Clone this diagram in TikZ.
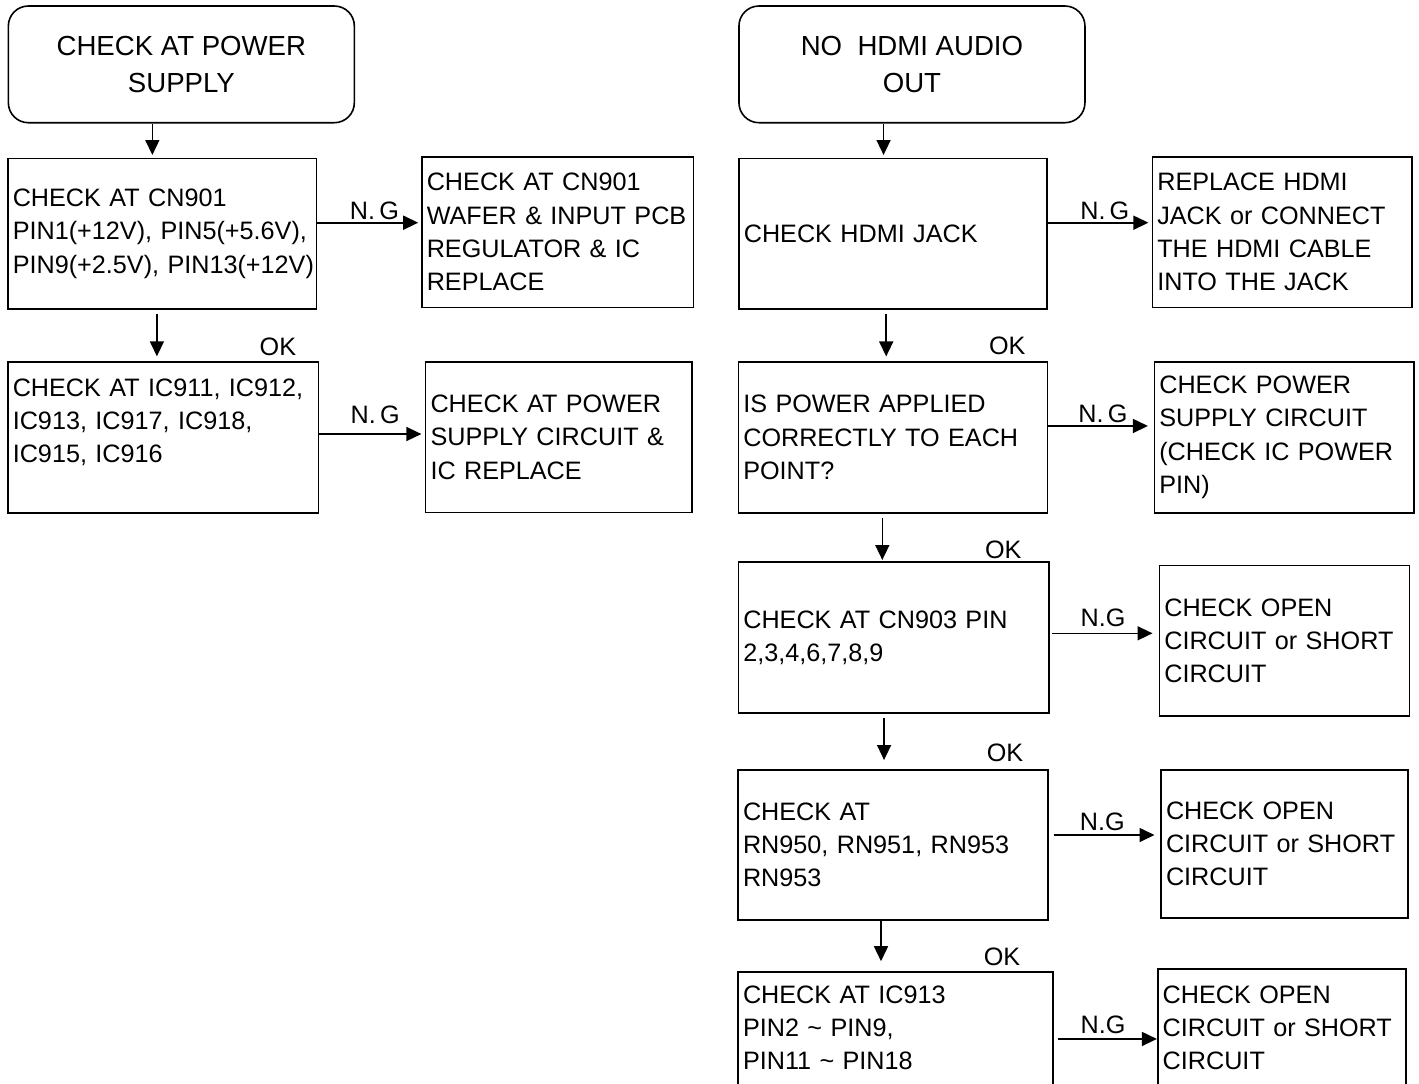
\documentclass[tikz,border=0pt]{standalone}
\usepackage{fontspec}
\setmainfont{Liberation Sans}
\usetikzlibrary{arrows.meta,positioning}

\begin{document}
\begin{tikzpicture}[
    x=0.5pt, y=-0.5pt,
    header/.style={rectangle, draw, rounded corners=10pt, line width=0.8pt, minimum width=173pt, minimum height=58.35pt, align=center, font=\fontsize{13.8}{18.35}\selectfont},
    box/.style={rectangle, draw, line width=0.8pt, align=left, inner xsep=2.5pt, text width=#1, minimum height=75.4pt, font=\fontsize{12.6}{16.65}\selectfont},
    arrow/.style={-{Triangle[length=7.5pt, width=7pt]}, line width=0.8pt},
    ng/.style={anchor=base, inner sep=0pt, yshift=#1, font=\fontsize{12.6}{16.65}\selectfont},
    ok/.style={anchor=base, inner sep=0pt, xshift=60.5pt, yshift=#1, font=\fontsize{12.6}{16.65}\selectfont},
    ok/.default=3pt,
]
    \useasboundingbox (0,0) rectangle (1419,1083);
    \clip (0,0) rectangle (1419,1083);

    % power supply branch
    \node[header] (pwr) at (181.35,64.35) {CHECK AT POWER\\SUPPLY};
    \node[box=149.4pt] (cn901) at (162.2,233.8) {CHECK AT CN901\\PIN1(+12V), PIN5(+5.6V),\\PIN9(+2.5V),~PIN13(+12V)};
    \node[box=130.9pt, minimum height=75.3pt] (cn901ng) at (557.7,232) {CHECK AT CN901\\WAFER \& INPUT PCB\\REGULATOR \& IC\\REPLACE};
    \node[box=150.3pt] (ic91x) at (163.1,437.5) {CHECK AT IC911, IC912,\\IC913, IC917, IC918,\\IC915, IC916\\ \mbox{}};
    \node[box=128.35pt] (ic91xng) at (558.85,437.2) {CHECK AT POWER\\SUPPLY CIRCUIT \&\\IC REPLACE};

    % hdmi audio branch
    \node[header] (hdmi) at (911.95,64.35) {NO\ \ HDMI AUDIO\\OUT};
    \node[box=149.1pt] (jack) at (892.9,233.8) {CHECK HDMI JACK};
    \node[box=124.95pt, minimum height=75.3pt] (jackng) at (1282.25,232) {REPLACE HDMI\\JACK or CONNECT\\THE HDMI CABLE\\INTO THE JACK};
    \node[box=149.5pt] (power) at (892.8,437.35) {IS POWER APPLIED\\CORRECTLY TO EACH\\POINT?};
    \node[box=124.7pt] (powerng) at (1284,437.35) {CHECK POWER\\SUPPLY CIRCUIT\\(CHECK IC POWER\\PIN)};
    \node[box=150.35pt] (cn903) at (893.65,637.5) {CHECK AT CN903 PIN\\2,3,4,6,7,8,9};
    \node[box=120pt] (cn903ng) at (1284.3,640.85) {CHECK OPEN\\CIRCUIT or SHORT\\CIRCUIT};
    \node[box=150pt, minimum height=75pt] (rn95x) at (893,845) {CHECK AT\\RN950, RN951, RN953\\RN953};
    \node[box=118.5pt, minimum height=74pt] (rn95xng) at (1284.5,844) {CHECK OPEN\\CIRCUIT or SHORT\\CIRCUIT};
    \node[box=152.35pt, minimum height=72.65pt] (ic913) at (895.35,1044.35) {CHECK AT IC913\\PIN2 \textasciitilde{} PIN9,\\PIN11 \textasciitilde{} PIN18\\ \mbox{}};
    \node[box=119.15pt, minimum height=75.65pt] (ic913ng) at (1281.85,1044.35) {CHECK OPEN\\CIRCUIT or SHORT\\CIRCUIT\\ \mbox{}};

    % OK arrows
    \draw[arrow, shorten >=1.3pt] ([xshift=-14.5pt]pwr.south) -- ([xshift=-14.5pt]pwr.south |- cn901.north);
    \draw[arrow, shorten <=2pt, shorten >=2.5pt] ([xshift=-2.65pt]cn901.south) -- ([xshift=-2.65pt]cn901.south |- ic91x.north) node[ok=3.15pt] {OK};
    \draw[arrow, shorten >=1.3pt] ([xshift=-14.2pt]hdmi.south) -- ([xshift=-14.2pt]hdmi.south |- jack.north);
    \draw[arrow, shorten <=2pt, shorten >=2.35pt] ([xshift=-3.35pt]jack.south) -- ([xshift=-3.35pt]jack.south |- power.north) node[ok=3.5pt] {OK};
    \draw[arrow, shorten <=2.3pt, shorten >=0.65pt] ([xshift=-5.25pt]power.south) -- ([xshift=-5.25pt]power.south |- cn903.north) node[ok=1.35pt] {OK};
    \draw[arrow, shorten <=2.2pt, shorten >=4.6pt] ([xshift=-4.8pt]cn903.south) -- ([xshift=-4.8pt]cn903.south |- rn95x.north) node[ok=3.85pt] {OK};
    \draw[arrow, shorten >=4.85pt] ([xshift=-6pt]rn95x.south) -- ([xshift=-6pt]rn95x.south |- ic913.north) node[ok=2.5pt] {OK};

    % N.G arrows
    \draw[arrow, shorten >=1.4pt] ([yshift=5.55pt]cn901.east) -- node[ng=1.7pt, pos=.55] {N.\,G} ([yshift=5.55pt]cn901.east -| cn901ng.west);
    \draw[arrow, shorten >=1.65pt] ([yshift=1.75pt]ic91x.east) -- node[ng=5.35pt, pos=.53] {N.\,G} ([yshift=1.75pt]ic91x.east -| ic91xng.west);
    \draw[arrow, shorten >=1.55pt] ([yshift=5.55pt]jack.east) -- node[ng=1.7pt, pos=.55] {N.\,G} ([yshift=5.55pt]jack.east -| jackng.west);
    \draw[arrow, shorten >=2.8pt] ([yshift=5.7pt]power.east) -- node[ng=1.65pt, pos=.52] {N.\,G} ([yshift=5.7pt]power.east -| powerng.west);
    \draw[arrow, shorten <=1pt, shorten >=3pt] ([yshift=2.1pt]cn903.east) -- node[ng=3.3pt, pos=.49] {N.G} ([yshift=2.1pt]cn903.east -| cn903ng.west);
    \draw[arrow, shorten <=2.35pt, shorten >=2.85pt] ([yshift=5pt]rn95x.east) -- node[ng=2.5pt, pos=.48] {N.G} ([yshift=5pt]rn95x.east -| rn95xng.west);
    \draw[arrow, shorten <=2pt] ([yshift=2.7pt]ic913.east) -- node[ng=2.85pt, pos=.48] {N.G} ([yshift=2.7pt]ic913.east -| ic913ng.west);
\end{tikzpicture}
\end{document}
